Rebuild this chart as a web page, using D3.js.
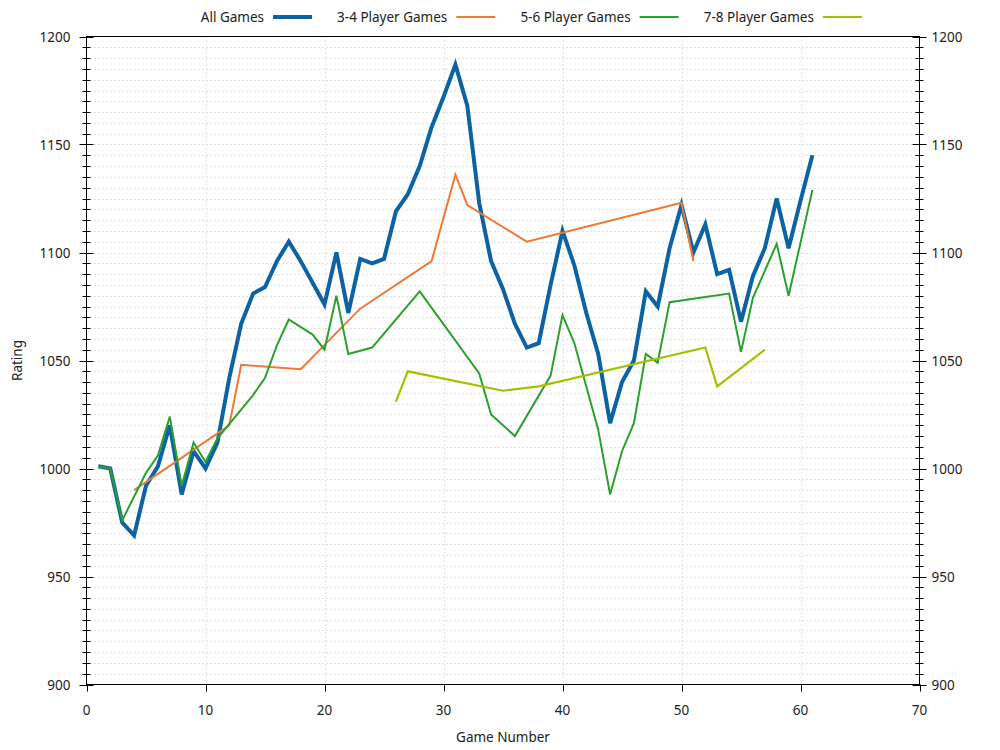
<!DOCTYPE html>
<html>
<head>
<meta charset="utf-8">
<script src="https://cdn.jsdelivr.net/npm/d3@7"></script>
<style>
  html, body { margin: 0; padding: 0; background: #fff; }
  svg { display: block; font-family: "Noto Sans", sans-serif; }
</style>
</head>
<body>
<svg id="chart" width="1000" height="750"></svg>
<script>
// Rating history (game number -> rating).
const gamesAll = d3.range(1, 62);
const ratingAll = [1001, 1000, 975, 969, 992, 1001, 1020, 988, 1008, 1000,
  1012, 1042, 1067, 1081, 1084, 1096, 1105, 1096, 1086, 1076,
  1100, 1072, 1097, 1095, 1097, 1119, 1127, 1140, 1158, 1172,
  1187, 1168, 1123, 1096, 1083, 1067, 1056, 1058, 1085, 1110,
  1094, 1072, 1053, 1021, 1040, 1050, 1082, 1075, 1102, 1122,
  1100, 1113, 1090, 1092, 1068, 1089, 1102, 1125, 1102, 1124, 1145];

const games34 = [4, 12, 13, 18, 23, 29, 31, 32, 37, 50, 51];
const rating34 = [990, 1020, 1048, 1046, 1074, 1096, 1136, 1122, 1105, 1123, 1096];

const games56 = [1, 2, 3, 5, 6, 7, 8, 9, 10, 11, 14, 15, 16, 17, 19, 20, 21, 22, 24, 28,
  33, 34, 36, 39, 40, 41, 43, 44, 45, 46, 47, 48, 49, 54, 55, 56, 58, 59, 61];
const rating56 = [1001, 1000, 976, 998, 1006, 1024, 992, 1012, 1003, 1014, 1034, 1042, 1057, 1069, 1062, 1055, 1080, 1053, 1056, 1082,
  1044, 1025, 1015, 1043, 1071, 1058, 1018, 988, 1008, 1021, 1053, 1049, 1077, 1081, 1054, 1079, 1104, 1080, 1129];

const games78 = [26, 27, 35, 38, 52, 53, 57];
const rating78 = [1031, 1045, 1036, 1038, 1056, 1038, 1055];

const xTicks = [0, 10, 20, 30, 40, 50, 60, 70];
const yTicks = [900, 950, 1000, 1050, 1100, 1150, 1200];

const SERIES = [
  { name: 'All Games', games: gamesAll, ratings: ratingAll, color: '#0b63a3', width: 4 },
  { name: '3-4 Player Games', games: games34, ratings: rating34, color: '#ef7a35', width: 2 },
  { name: '5-6 Player Games', games: games56, ratings: rating56, color: '#2ca02c', width: 2 },
  { name: '7-8 Player Games', games: games78, ratings: rating78, color: '#a8bf00', width: 2.2 },
];

const LEFT = 86.5, RIGHT = 919.5, TOP = 36.5, BOTTOM = 684.5;
const TEXT = '#222';
const FONT = '13.5px';

const svg = d3.select('#chart');
const x = d3.scaleLinear().domain([0, 70]).range([LEFT, RIGHT]);
const y = d3.scaleLinear().domain([900, 1200]).range([BOTTOM, TOP]);

const minorY = d3.range(900, 1201, 5);

// dotted grid: every 5 rating points, every 10 games
const grid = svg.append('g').attr('stroke', '#c4c4c4').attr('stroke-width', 1).attr('stroke-dasharray', '1,3');
grid.selectAll('line.gy')
  .data(minorY.filter((v) => v > 900 && v < 1200))
  .enter().append('line')
  .attr('x1', LEFT).attr('x2', RIGHT)
  .attr('y1', (d) => Math.round(y(d)) + 0.5).attr('y2', (d) => Math.round(y(d)) + 0.5);
grid.selectAll('line.gx')
  .data(xTicks.filter((v) => v > 0 && v < 70))
  .enter().append('line')
  .attr('y1', TOP).attr('y2', BOTTOM)
  .attr('x1', (d) => Math.round(x(d)) + 0.5).attr('x2', (d) => Math.round(x(d)) + 0.5);

// series lines
const line = d3.line().x((d) => x(d[0])).y((d) => y(d[1]));
SERIES.forEach((s) => {
  svg.append('path')
    .datum(s.games.map((g, i) => [g, s.ratings[i]]))
    .attr('d', line)
    .attr('fill', 'none')
    .attr('stroke', s.color)
    .attr('stroke-width', s.width)
    .attr('stroke-linejoin', 'miter')
    .attr('stroke-miterlimit', 4);
});

// frame
svg.append('rect')
  .attr('x', LEFT).attr('y', TOP)
  .attr('width', RIGHT - LEFT).attr('height', BOTTOM - TOP)
  .attr('fill', 'none').attr('stroke', '#000').attr('stroke-width', 1);

// y ticks on both sides: major cross the border, minor are short
const ticks = svg.append('g').attr('stroke', '#000').attr('stroke-width', 1);
[LEFT, RIGHT].forEach((ax) => {
  ticks.selectAll(null)
    .data(minorY)
    .enter().append('line')
    .attr('x1', (d) => ax - (d % 50 === 0 ? 7 : 4))
    .attr('x2', (d) => ax + (d % 50 === 0 ? 7 : 4))
    .attr('y1', (d) => Math.round(y(d)) + 0.5)
    .attr('y2', (d) => Math.round(y(d)) + 0.5);
});
ticks.selectAll(null)
  .data(xTicks)
  .enter().append('line')
  .attr('x1', (d) => Math.round(x(d)) + 0.5).attr('x2', (d) => Math.round(x(d)) + 0.5)
  .attr('y1', BOTTOM).attr('y2', BOTTOM + 7);

// tick labels
const labels = svg.append('g').attr('fill', TEXT).style('font-size', FONT);
labels.selectAll(null)
  .data(yTicks)
  .enter().append('text')
  .attr('x', LEFT - 16).attr('y', (d) => y(d))
  .attr('text-anchor', 'end').attr('dominant-baseline', 'central')
  .text((d) => d);
labels.selectAll(null)
  .data(yTicks)
  .enter().append('text')
  .attr('x', RIGHT + 12).attr('y', (d) => y(d))
  .attr('text-anchor', 'start').attr('dominant-baseline', 'central')
  .text((d) => d);
labels.selectAll(null)
  .data(xTicks)
  .enter().append('text')
  .attr('x', (d) => x(d)).attr('y', 710)
  .attr('text-anchor', 'middle').attr('dominant-baseline', 'central')
  .text((d) => d);

// axis titles
labels.append('text')
  .attr('x', (LEFT + RIGHT) / 2).attr('y', 737)
  .attr('text-anchor', 'middle').attr('dominant-baseline', 'central')
  .text('Game Number');
labels.append('text')
  .attr('transform', `translate(17,${(TOP + BOTTOM) / 2}) rotate(-90)`)
  .attr('text-anchor', 'middle').attr('dominant-baseline', 'central')
  .text('Rating');

// legend: label right-aligned, sample line to its right
const legend = svg.append('g')
  .selectAll('g')
  .data(SERIES)
  .enter().append('g')
  .attr('transform', (d, i) => `translate(${264 + i * 183.3},17)`);
legend.append('text')
  .attr('text-anchor', 'end').attr('dominant-baseline', 'central')
  .attr('fill', TEXT).style('font-size', FONT)
  .text((d) => d.name);
legend.append('line')
  .attr('x1', 9).attr('x2', 48).attr('y1', 0).attr('y2', 0)
  .attr('stroke', (d) => d.color).attr('stroke-width', (d) => d.width);
</script>
</body>
</html>
